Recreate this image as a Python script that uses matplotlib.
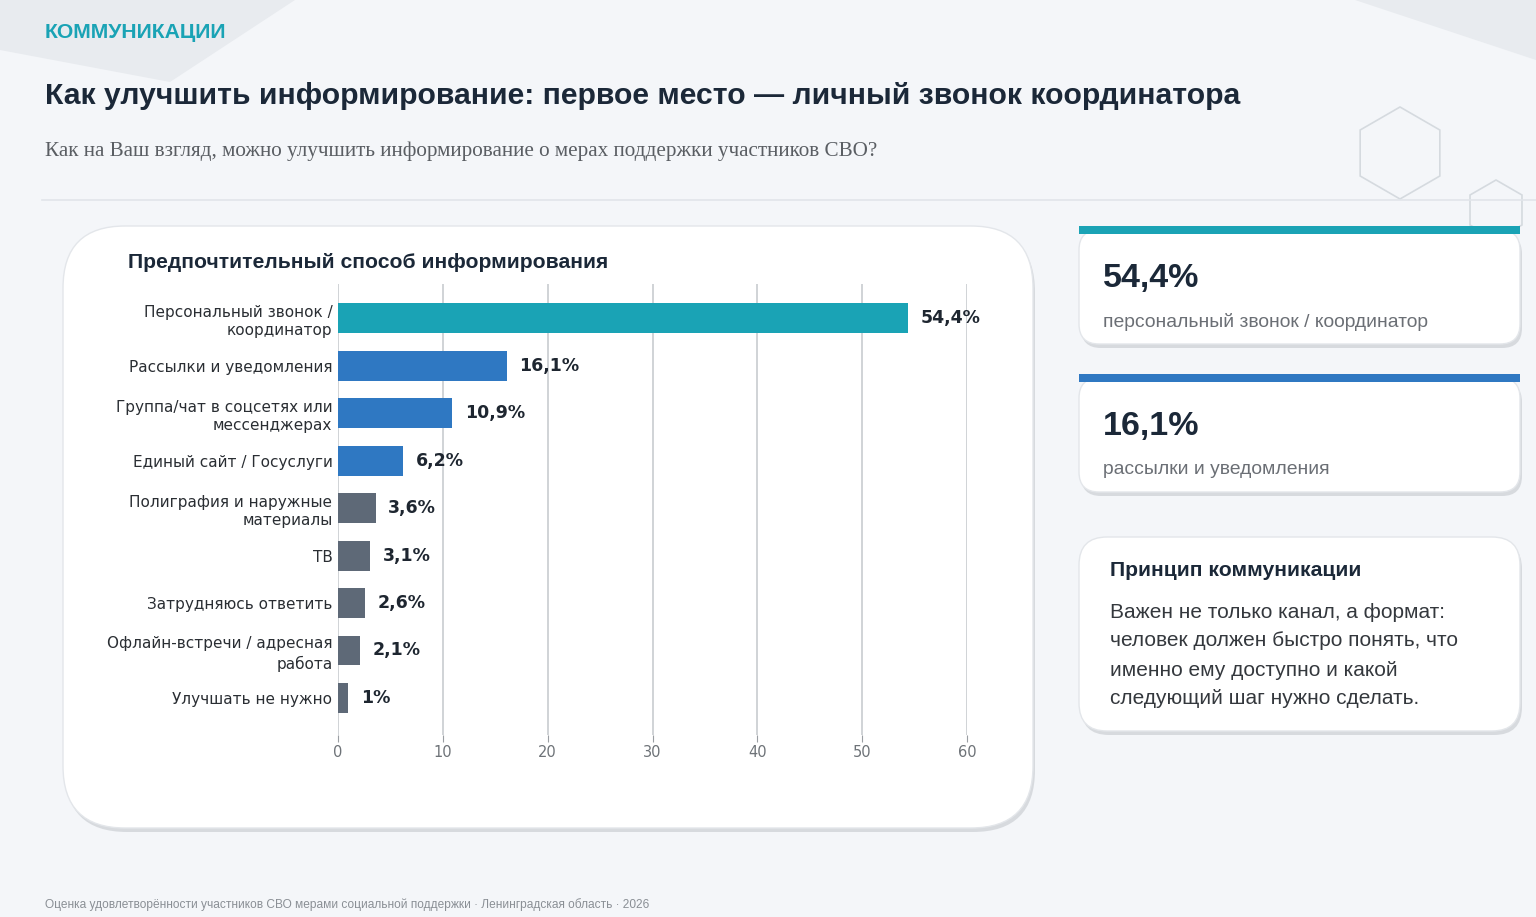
import matplotlib
matplotlib.use("Agg")
import matplotlib.pyplot as plt
from matplotlib.patches import FancyBboxPatch, Polygon, RegularPolygon, Rectangle

# ---------------- data ----------------
categories = [
    "Персональный звонок /\nкоординатор",
    "Рассылки и уведомления",
    "Группа/чат в соцсетях или\nмессенджерах",
    "Единый сайт / Госуслуги",
    "Полиграфия и наружные\nматериалы",
    "ТВ",
    "Затрудняюсь ответить",
    "Офлайн-встречи / адресная\nработа",
    "Улучшать не нужно",
]
values = [54.4, 16.1, 10.9, 6.2, 3.6, 3.1, 2.6, 2.1, 1.0]
value_labels = ["54,4%", "16,1%", "10,9%", "6,2%", "3,6%", "3,1%", "2,6%", "2,1%", "1%"]
bar_groups = ["top", "mid", "mid", "mid", "low", "low", "low", "low", "low"]
x_ticks = [0, 10, 20, 30, 40, 50, 60]

section_label = "КОММУНИКАЦИИ"
title = "Как улучшить информирование: первое место — личный звонок координатора"
subtitle = "Как на Ваш взгляд, можно улучшить информирование о мерах поддержки участников СВО?"
chart_title = "Предпочтительный способ информирования"
kpi_values = ["54,4%", "16,1%"]
kpi_labels = ["персональный звонок / координатор", "рассылки и уведомления"]
note_title = "Принцип коммуникации"
note_lines = ["Важен не только канал, а формат:",
              "человек должен быстро понять, что",
              "именно ему доступно и какой",
              "следующий шаг нужно сделать."]
footer = "Оценка удовлетворённости участников СВО мерами социальной поддержки · Ленинградская область · 2026"

# ---------------- style ----------------
TEAL = "#1AA3B5"
BLUE = "#2F78C2"
GRAY = "#5E6977"
DARK = "#1B2838"
group_colors = {"top": TEAL, "mid": BLUE, "low": GRAY}
BG = "#F4F6F9"
SANS = ["Liberation Sans", "DejaVu Sans"]

W, H = 1536, 917
fig = plt.figure(figsize=(W / 100, H / 100), dpi=100)
fig.patch.set_facecolor(BG)

# overlay axes in pixel coordinates
bg = fig.add_axes([0, 0, 1, 1])
bg.set_xlim(0, W)
bg.set_ylim(H, 0)
bg.axis("off")
bg.set_zorder(0)

# background decorations
bg.add_patch(Polygon([(0, 0), (295, 0), (170, 82), (0, 50)], closed=True,
                     facecolor="#E8EBEF", edgecolor="none"))
bg.add_patch(Polygon([(1355, 0), (1536, 0), (1536, 60)], closed=True,
                     facecolor="#E8EBEF", edgecolor="none"))
bg.add_patch(RegularPolygon((1400, 153), 6, radius=46, orientation=0,
                            facecolor="none", edgecolor="#D5DADF", lw=1.2))
bg.add_patch(RegularPolygon((1496, 210), 6, radius=30, orientation=0,
                            facecolor="none", edgecolor="#D5DADF", lw=1.2))
bg.plot([42, W], [200, 200], color="#E1E5EA", lw=1.2)


def card(x0, y0, x1, y1, r, ec="#E3E6EA"):
    # shadow
    bg.add_patch(FancyBboxPatch((x0 + 2, y0 + 4), x1 - x0, y1 - y0,
                                boxstyle=f"round,pad=0,rounding_size={r}",
                                facecolor="#C4C8CD", edgecolor="none", alpha=0.6))
    bg.add_patch(FancyBboxPatch((x0, y0), x1 - x0, y1 - y0,
                                boxstyle=f"round,pad=0,rounding_size={r}",
                                facecolor="white", edgecolor=ec, lw=1.0))


# chart card
card(63, 226, 1033, 828, 62)

# KPI cards
kpi_colors = [TEAL, BLUE]
kpi_tops = [226, 374]
for i in range(2):
    t = kpi_tops[i]
    card(1079, t + 4, 1520, t + 118, 20)
    bg.add_patch(Rectangle((1079, t), 441, 8, facecolor=kpi_colors[i], edgecolor="none"))
    bg.text(1103, t + 52, kpi_values[i], fontsize=24.5, fontweight="bold",
            color=DARK, family=SANS, va="center", ha="left")
    bg.text(1103, t + 96, kpi_labels[i], fontsize=13.9, color="#6B6F75",
            family=SANS, va="center", ha="left")

# note card
card(1079, 537, 1520, 731, 28)
bg.text(1110, 571, note_title, fontsize=15.2, fontweight="bold", color=DARK,
        family=SANS, va="center", ha="left")
for k, line in enumerate(note_lines):
    bg.text(1110, 612 + 29 * k, line, fontsize=15.0, color="#34383D",
            family=SANS, va="center", ha="left")

# header texts
bg.text(45, 33, section_label, fontsize=15.2, fontweight="bold", color="#1AA3B5",
        family=SANS, va="center", ha="left")
bg.text(45, 96, title, fontsize=21.7, fontweight="bold", color=DARK,
        family=SANS, va="center", ha="left")
bg.text(45, 151, subtitle, fontsize=15.2, color="#5A5E63",
        family=["Liberation Serif", "DejaVu Serif"], va="center", ha="left")
bg.text(128, 262, chart_title, fontsize=15.2, fontweight="bold", color=DARK,
        family=SANS, va="center", ha="left")
bg.text(45, 905, footer, fontsize=8.55, color="#8A8F95",
        family=SANS, va="center", ha="left")

# ---------------- bar chart ----------------
ax_l, ax_r, ax_t, ax_b = 338, 967, 284, 735
ax = fig.add_axes([ax_l / W, 1 - ax_b / H, (ax_r - ax_l) / W, (ax_b - ax_t) / H])
ax.set_zorder(2)
ax.patch.set_alpha(0)

ypos = list(range(len(categories)))
colors = [group_colors[g] for g in bar_groups]
ax.barh(ypos, values, height=0.63, color=colors, zorder=3)
ax.set_xlim(0, 60)
ax.set_ylim(8.78, -0.72)
ax.set_xticks(x_ticks)
ax.set_xticklabels([str(t) for t in x_ticks])
ax.set_yticks(ypos)
ax.set_yticklabels(categories, fontsize=11, color="#2A2E33", linespacing=1.3,
                   family="DejaVu Sans")
ax.grid(axis="x", color="#C4C7CB", lw=1.1, zorder=1)
ax.set_axisbelow(True)
for s in ax.spines.values():
    s.set_visible(False)
ax.tick_params(axis="y", length=0, pad=4)
ax.tick_params(axis="x", length=5, color="#9A9EA3", labelsize=10.5,
               labelcolor="#6E7378", pad=2)

for y, v, lab in zip(ypos, values, value_labels):
    ax.annotate(lab, (v, y), xytext=(9, 0), textcoords="offset points",
                ha="left", va="center", fontsize=12.5, fontweight="bold",
                color="#1E2630", family="DejaVu Sans")

fig.savefig("out.png", dpi=100, facecolor=BG)
